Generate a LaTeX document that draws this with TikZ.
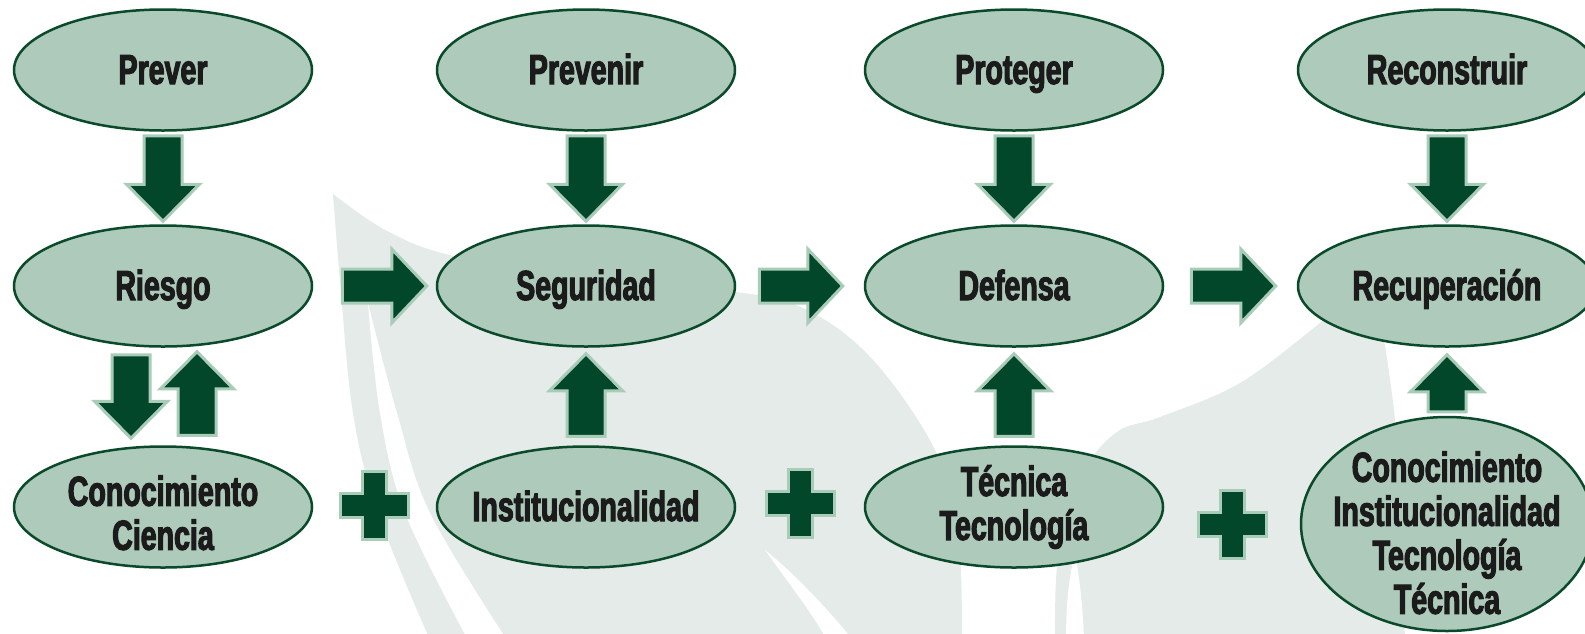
\documentclass[tikz,border=0pt]{standalone}
\usepackage{fontspec}
\newfontfamily\labelfont{Liberation Sans}[FakeStretch=0.68, FakeBold=2.6]
\usetikzlibrary{shapes.geometric, calc}
\definecolor{ellc}{HTML}{ADCABB}
\definecolor{edgec}{HTML}{0A4A2A}
\definecolor{arrc}{HTML}{03472A}
\definecolor{arrb}{HTML}{A9CCB9}
\definecolor{leafc}{HTML}{E5EBE8}
\definecolor{txtc}{HTML}{1B1B1B}
\newcommand\arrdown[2]{\filldraw[blk] ($(#1)+(-19,0)$) -- ($(#1)+(19,0)$) -- ($(#2)+(19,-37)$) -- ($(#2)+(36.5,-37)$) -- (#2) -- ($(#2)+(-36.5,-37)$) -- ($(#2)+(-19,-37)$) -- cycle;}
\newcommand\arrup[2]{\filldraw[blk] ($(#1)+(-19,0)$) -- ($(#2)+(-19,37)$) -- ($(#2)+(-36.5,37)$) -- (#2) -- ($(#2)+(36.5,37)$) -- ($(#2)+(19,37)$) -- ($(#1)+(19,0)$) -- cycle;}
\newcommand\arrright[2]{\filldraw[blk] ($(#1)+(0,-17)$) -- ($(#2)+(-35,-17)$) -- ($(#2)+(-35,-37)$) -- (#2) -- ($(#2)+(-35,37)$) -- ($(#2)+(-35,17)$) -- ($(#1)+(0,17)$) -- cycle;}
\newcommand\plussign[1]{\filldraw[blk] (#1) ++(-12,-34) -- ++(24,0) -- ++(0,22) -- ++(22,0) -- ++(0,24) -- ++(-22,0) -- ++(0,22) -- ++(-24,0) -- ++(0,-22) -- ++(-22,0) -- ++(0,-24) -- ++(22,0) -- cycle;}
\newcommand\topstrut[1]{\rule{0pt}{#1}}
\begin{document}
\begin{tikzpicture}[x=1pt,y=-1pt,
  ell/.style={ellipse, draw=edgec, fill=ellc, line width=2.5pt,
    inner xsep=-80pt, inner ysep=-40pt,
    minimum width=298pt, minimum height=121pt, align=center,
    font={\labelfont\bfseries\fontsize{42pt}{44pt}\selectfont}, text=txtc},
  oneline/.style={text height=28pt, text depth=0pt},
  blk/.style={fill=arrc, draw=arrb, line width=3pt, line join=miter},
  leaf/.style={fill=leafc},
  vein/.style={fill=white}]
\fill[white] (0,0) rectangle (1585,633);
\useasboundingbox (0,0) rectangle (1585,633);
% background leaves
\fill[leaf] plot[smooth, tension=0.6] coordinates {(333,194) (387,231) (453,256) (600,285) (735,292) (807,310) (873,360) (935,450) (958,533) (962,640)}
  -- plot[smooth, tension=0.6] coordinates {(430,640) (378,513) (353,413) (340,280) (333,194)} -- cycle;
\fill[vein] plot[smooth, tension=0.6] coordinates {(368,303) (380,413) (405,513) (468,640)}
  -- plot[smooth, tension=0.6] coordinates {(507,640) (430,513) (397,413) (368,303)} -- cycle;
\fill[vein] (765,550) .. controls (790,585) and (810,610) .. (827,640) -- (853,640) .. controls (820,600) and (790,570) .. (765,550) -- cycle;
\fill[leaf] plot[smooth, tension=0.6] coordinates {(1055,640) (1057,567) (1070,500) (1090,460) (1120,430) (1160,417) (1240,383) (1320,323) (1360,290)}
  -- plot[smooth, tension=0.6] coordinates {(1385,345) (1395,420) (1400,500) (1405,640)} -- cycle;
\fill[vein] (1075,553) .. controls (1068,580) and (1066,610) .. (1066,640) -- (1084,640) .. controls (1083,610) and (1080,580) .. (1075,553) -- cycle;
% nodes
\node[ell, oneline] (prever) at (163,70) {Prever};
\node[ell, oneline] (prevenir) at (586,70) {Prevenir};
\node[ell, oneline] (proteger) at (1014,70) {Proteger};
\node[ell, oneline] (reconstruir) at (1447,70) {Reconstruir};
\node[ell, oneline] (riesgo) at (163,286) {Riesgo};
\node[ell, oneline] (seguridad) at (586,286) {Seguridad};
\node[ell, oneline] (defensa) at (1014,286) {Defensa};
\node[ell, oneline] (recuperacion) at (1447,286) {Recuperación};
\node[ell] (conoc) at (163,507) {\topstrut{42pt}Conocimiento\\Ciencia};
\node[ell, oneline] (instit) at (586,507) {Institucionalidad};
\node[ell] (tecnica) at (1014,507) {Técnica\\Tecnología};
\node[ell, minimum width=292pt, minimum height=214pt] (todo) at (1447,524) {\topstrut{48pt}Conocimiento\\Institucionalidad\\Tecnología\\Técnica};
% down arrows from first row
\foreach \a/\b in {prever/riesgo, prevenir/seguridad, proteger/defensa, reconstruir/recuperacion}{
  \coordinate (s) at ($(\a.south)+(0,4)$);
  \coordinate (t) at ($(\b.north)+(0,-3)$);
  \arrdown{s}{t}
}
% right arrows
\coordinate (r1s) at ($(riesgo.east)+(29,0)$);
\coordinate (r1t) at ($(seguridad.west)+(-9,0)$);
\arrright{r1s}{r1t}
\coordinate (r2s) at ($(seguridad.east)+(23,0)$);
\coordinate (r2t) at ($(defensa.west)+(-21,0)$);
\arrright{r2s}{r2t}
\coordinate (r3s) at ($(defensa.east)+(27,0)$);
\coordinate (r3t) at ($(recuperacion.west)+(-21,0)$);
\arrright{r3s}{r3t}
% first column pair
\coordinate (c1s) at ($(riesgo.south)+(-32,7)$);
\coordinate (c1t) at ($(conoc.north)+(-32,-7)$);
\arrdown{c1s}{c1t}
\coordinate (c2s) at ($(conoc.north)+(34,-10)$);
\coordinate (c2t) at ($(riesgo.south)+(34,4)$);
\arrup{c2s}{c2t}
% up arrows
\coordinate (u1s) at ($(instit.north)+(0,-9)$);
\coordinate (u1t) at ($(seguridad.south)+(0,6)$);
\arrup{u1s}{u1t}
\coordinate (u2s) at ($(tecnica.north)+(0,-9)$);
\coordinate (u2t) at ($(defensa.south)+(0,6)$);
\arrup{u2s}{u2t}
\coordinate (u3s) at ($(todo.north)+(0,-4)$);
\coordinate (u3t) at ($(recuperacion.south)+(0,7)$);
\arrup{u3s}{u3t}
% plus signs
\coordinate (p1) at ($(conoc.east)!0.5!(instit.west)+(0,-2)$);
\coordinate (p2) at ($(instit.east)!0.5!(tecnica.west)+(0,-4)$);
\coordinate (p3) at ($(tecnica.east)!0.5!(todo.west)+(0,9)$);
\plussign{p1}
\plussign{p2}
\plussign{p3}
\end{tikzpicture}
\end{document}
